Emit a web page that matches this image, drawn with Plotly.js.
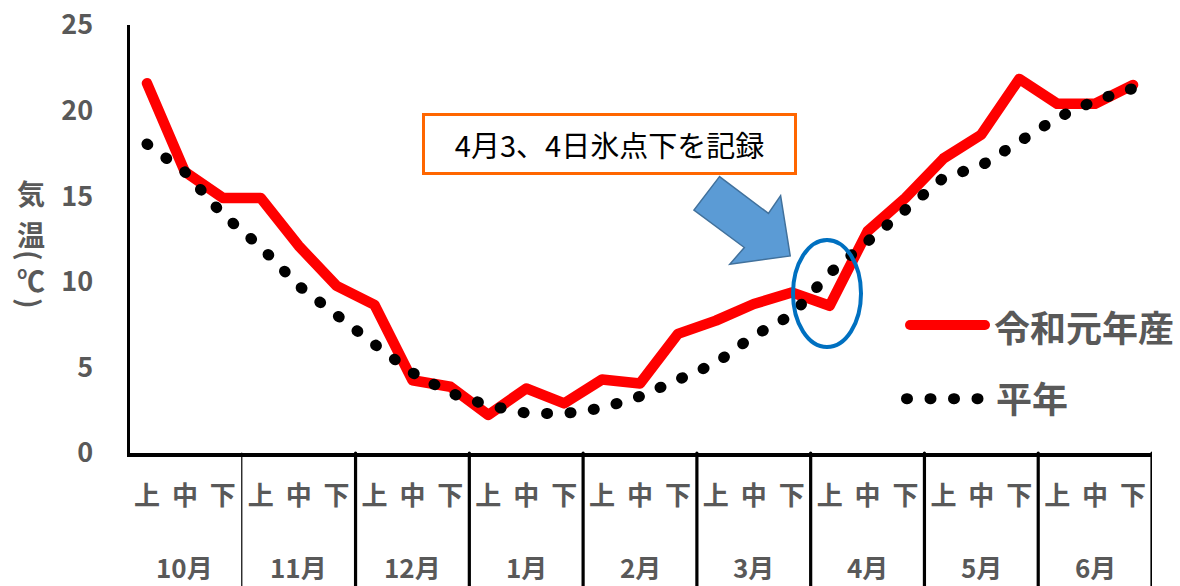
<!DOCTYPE html>
<html>
<head>
<meta charset="utf-8">
<script src="https://cdn.plot.ly/plotly-3.0.1.min.js"></script>
<style>
  html, body { margin: 0; padding: 0; background: #fff; }
  #chart { width: 1180px; height: 586px; }
  .scatterlayer .js-line { stroke-linecap: round !important; stroke-linejoin: round !important; }
  .shapelayer path { stroke-linecap: round; }
</style>
</head>
<body>
<div id="chart"></div>
<script>
// ---- data ----
const months = ['10月', '11月', '12月', '1月', '2月', '3月', '4月', '5月', '6月'];
const decades = ['上', '中', '下'];
const seriesNames = ['令和元年産', '平年'];
const reiwa = [21.6, 16.43, 14.9, 14.9, 12.1, 9.76, 8.65, 4.25, 3.87,
               2.22, 3.77, 2.9, 4.29, 4.06, 6.96, 7.73, 8.7, 9.38,
               8.6, 12.95, 14.9, 17.2, 18.6, 21.85, 20.4, 20.4, 21.5];
const heinen = [18.05, 16.42, 13.93, 12.04, 9.77, 7.96, 6.35, 4.69, 3.5,
                2.78, 2.33, 2.3, 2.62, 3.31, 4.2, 5.25, 6.85, 8.06,
                10.5, 12.4, 14.24, 16.07, 16.79, 18.1, 19.58, 20.58, 21.3];
const yTitleChars = ['気', '温', '(', '℃', ')'];
const noteText = '4月3、4日氷点下を記録';

// ---- derived ----
const categories = [];
const tickText = [];
months.forEach(m => decades.forEach(d => { categories.push(m + d); tickText.push(d); }));

const FONT = '"Noto Sans CJK JP", "Noto Sans", sans-serif';
const GRAY = '#595959';

// plot area geometry
const W = 1180, H = 586, L = 130, R = 28, T = 25, B = 133;
const pw = W - L - R, ph = H - T - B;
const px = x => (x - L) / pw;
const py = y => (H - B - y) / ph;
const catW = 1024 / categories.length;
const xStart = -0.5 + (L - 128) / catW;

const traces = [
  {
    x: categories, y: reiwa, name: seriesNames[0], type: 'scatter', mode: 'lines',
    line: { color: '#FF0000', width: 10.5 }
  },
  {
    x: categories, y: heinen, name: seriesNames[1], type: 'scatter', mode: 'lines',
    line: { color: '#000000', width: 11, dash: '1px,22.5px' }
  }
];

const shapes = [];
// month dividers of the table below the axis
for (let k = 0; k <= months.length; k++) {
  shapes.push({
    type: 'line', xref: 'x', yref: 'paper',
    x0: 3 * k - 0.5, x1: 3 * k - 0.5, y0: 0, y1: -(B + 5) / ph,
    line: { color: '#000', width: k === 1 ? 1.2 : 3.2 }
  });
}
// blue block arrow
const arrowPts = [[719.5,176.6],[693.9,210],[744.3,247.5],[729.8,264.2],[790.2,255.9],[780.6,195.7],[768.4,213.4]];
shapes.push({
  type: 'path', xref: 'paper', yref: 'paper',
  path: 'M' + arrowPts.map(p => px(p[0]).toFixed(4) + ',' + py(p[1]).toFixed(4)).join('L') + 'Z',
  fillcolor: '#5B9BD5', line: { color: '#41719C', width: 1.5 }
});
// blue ellipse
shapes.push({
  type: 'circle', xref: 'paper', yref: 'paper',
  x0: px(793), x1: px(861), y0: py(347), y1: py(240),
  line: { color: '#0070C0', width: 4 }
});
// legend samples
shapes.push({
  type: 'line', xref: 'paper', yref: 'paper',
  x0: px(910), x1: px(985), y0: py(325), y1: py(325),
  line: { color: '#FF0000', width: 10 }
});
shapes.push({
  type: 'line', xref: 'paper', yref: 'paper',
  x0: px(906.5), x1: px(978.5), y0: py(398.7), y1: py(398.7),
  line: { color: '#000000', width: 11, dash: '1px,22.5px' }
});

const annotations = [];
// month labels
months.forEach((m, k) => {
  annotations.push({
    x: categories[3 * k + 1], xref: 'x', y: 0, yref: 'paper', yanchor: 'middle',
    yshift: -(566 - (H - B)), showarrow: false, text: m,
    font: { family: FONT, size: 26, color: GRAY, weight: 'bold' }
  });
});
// vertical y-axis title
const yPos = [193, 234, 255, 280, 303];
yTitleChars.forEach((c, i) => {
  const isBracket = (c === '(' || c === ')');
  annotations.push({
    x: px(31), xref: 'paper', y: py(yPos[i]), yref: 'paper',
    xanchor: 'center', yanchor: 'middle', showarrow: false, text: c,
    textangle: isBracket ? 90 : 0,
    font: { family: FONT, size: 28, color: GRAY, weight: 'bold' }
  });
});
// note box
annotations.push({
  x: px(609.5), xref: 'paper', y: py(143.5), yref: 'paper',
  xanchor: 'center', yanchor: 'middle', showarrow: false, text: noteText,
  width: 365, height: 52, borderpad: 2, borderwidth: 3,
  bordercolor: '#FF6600', bgcolor: '#FFFFFF',
  font: { family: FONT, size: 29, color: '#000' }
});
// legend labels
annotations.push({
  x: px(992), xref: 'paper', y: py(326), yref: 'paper',
  xanchor: 'left', yanchor: 'middle', showarrow: false, text: seriesNames[0],
  font: { family: FONT, size: 36, color: GRAY, weight: 'bold' }
});
annotations.push({
  x: px(993.5), xref: 'paper', y: py(397), yref: 'paper',
  xanchor: 'left', yanchor: 'middle', showarrow: false, text: seriesNames[1],
  font: { family: FONT, size: 36, color: GRAY, weight: 'bold' }
});

const layout = {
  width: W, height: H,
  margin: { l: L, r: R, t: T, b: B, pad: 0 },
  paper_bgcolor: '#fff', plot_bgcolor: '#fff',
  showlegend: false,
  hovermode: false,
  font: { family: FONT, color: GRAY },
  xaxis: {
    type: 'category', categoryorder: 'array', categoryarray: categories,
    range: [xStart, categories.length - 0.5],
    tickvals: categories, ticktext: tickText,
    ticks: '', ticklabelstandoff: 17,
    showgrid: false, zeroline: false,
    showline: true, linecolor: '#000', linewidth: 4,
    tickfont: { family: FONT, size: 26, color: GRAY, weight: 'bold' },
    fixedrange: true
  },
  yaxis: {
    range: [0, 25], tickvals: [0, 5, 10, 15, 20, 25],
    ticks: '', ticklabelstandoff: 28,
    showgrid: false, zeroline: false,
    showline: true, linecolor: '#000', linewidth: 3.5,
    tickfont: { family: FONT, size: 27, color: GRAY, weight: 'bold' },
    fixedrange: true
  },
  shapes: shapes,
  annotations: annotations
};

Plotly.newPlot('chart', traces, layout, { displayModeBar: false, staticPlot: true });
</script>
</body>
</html>
